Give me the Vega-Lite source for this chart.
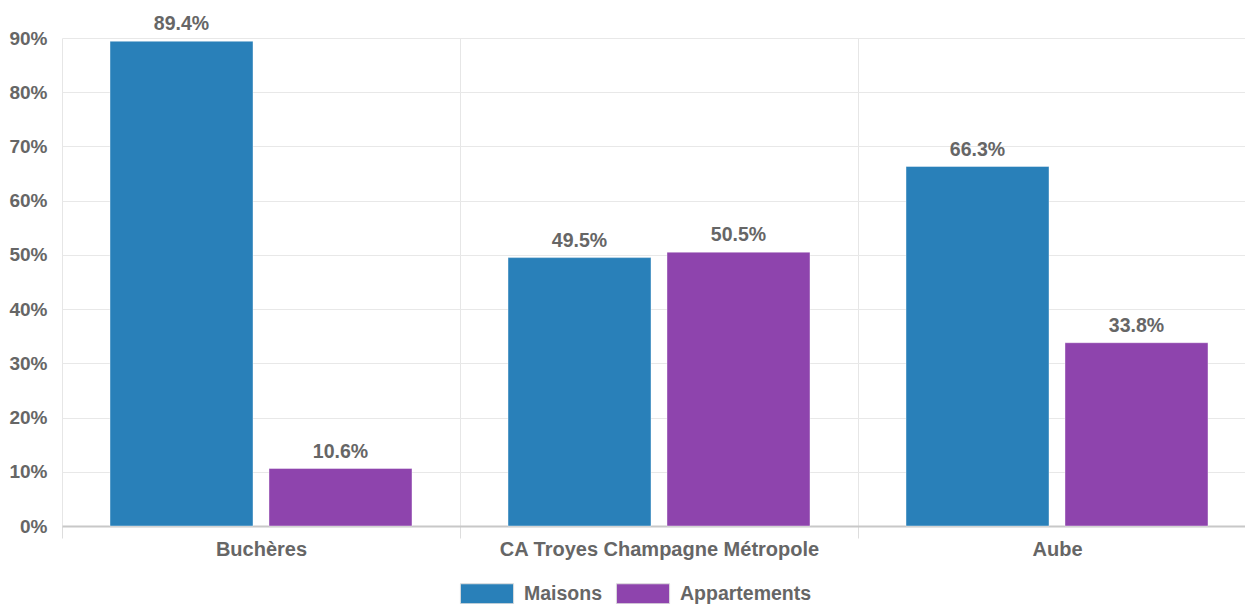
{
  "$schema": "https://vega.github.io/schema/vega-lite/v6.json",
  "width": 1183,
  "height": 488,
  "autosize": {"type": "none"},
  "padding": {"left": 62, "top": 38, "right": 0, "bottom": 78},
  "background": "white",
  "config": {
    "font": "Liberation Sans",
    "view": {"stroke": null},
    "axis": {"labelFont": "Liberation Sans", "labelFontWeight": "bold", "labelColor": "#666666"},
    "legend": {"labelFont": "Liberation Sans"}
  },
  "data": {
    "values": [
      {"zone": "Buchères", "type": "Maisons", "value": 0.894},
      {"zone": "Buchères", "type": "Appartements", "value": 0.106},
      {"zone": "CA Troyes Champagne Métropole", "type": "Maisons", "value": 0.495},
      {"zone": "CA Troyes Champagne Métropole", "type": "Appartements", "value": 0.505},
      {"zone": "Aube", "type": "Maisons", "value": 0.663},
      {"zone": "Aube", "type": "Appartements", "value": 0.338}
    ]
  },
  "encoding": {
    "x": {
      "field": "zone", "type": "nominal", "sort": null, "title": null,
      "scale": {"range": [0, 1194], "paddingInner": 0, "paddingOuter": 0},
      "axis": {
        "labelAngle": 0, "labelLimit": 0, "labelFontSize": 20, "tickBand": "extent", "grid": true, "gridColor": "#e6e6e6",
        "ticks": true, "tickSize": 12, "tickColor": "#dddddd",
        "domain": true, "domainColor": "#c8c8c8", "domainWidth": 2, "labelPadding": 1
      }
    },
    "xOffset": {
      "field": "type", "type": "nominal", "sort": ["Maisons", "Appartements"],
      "scale": {"paddingInner": 0.1006, "paddingOuter": 0.302}
    },
    "y": {
      "field": "value", "type": "quantitative", "title": null,
      "scale": {"domain": [0, 0.9], "nice": false},
      "axis": {
        "values": [0, 0.1, 0.2, 0.3, 0.4, 0.5, 0.6, 0.7, 0.8, 0.9],
        "format": ".0%", "domain": false, "ticks": false, "labelPadding": 15, "labelFontSize": 19,
        "grid": true, "gridColor": "#e8e8e8", "gridWidth": 1
      }
    }
  },
  "layer": [
    {
      "mark": {"type": "bar", "stroke": "white", "strokeWidth": 1, "strokeOpacity": 0.4},
      "encoding": {
        "color": {
          "field": "type", "type": "nominal",
          "scale": {"domain": ["Maisons", "Appartements"], "range": ["#2980b9", "#8e44ad"]},
          "legend": {
            "title": null, "orient": "none", "direction": "horizontal",
            "legendX": 404.5, "legendY": 535, "padding": 0,
            "symbolType": "M-1.33,-0.5H1.33V0.5H-1.33Z", "symbolSize": 1600,
            "symbolStrokeColor": "#dddddd", "symbolStrokeWidth": 1, "symbolOpacity": 1,
            "labelFontSize": 19.5, "labelFontWeight": "bold", "labelColor": "#666666",
            "labelOffset": 16.5, "columnPadding": 11
          }
        }
      }
    },
    {
      "mark": {"type": "text", "baseline": "alphabetic", "dy": -11, "fontSize": 19.5, "fontWeight": "bold", "color": "#666666"},
      "encoding": {
        "text": {"field": "value", "type": "quantitative", "format": ".1%"}
      }
    }
  ]
}
